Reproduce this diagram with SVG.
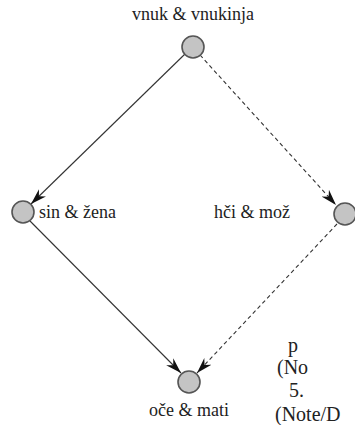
<svg xmlns="http://www.w3.org/2000/svg" width="355" height="425" viewBox="0 0 355 425">
<style>
.lbl{font-family:"Liberation Serif","Times New Roman",serif;font-size:18px;fill:#222}
.fr{font-family:"Liberation Serif","Times New Roman",serif;font-size:20px;fill:#222}
.nd{fill:#c4c4c4;stroke:#555;stroke-width:1.6}
.e{stroke:#333;stroke-width:1.1;fill:none}
.d{stroke-dasharray:4,3}
</style>
<defs>
<marker id="ah" markerUnits="userSpaceOnUse" markerWidth="18" markerHeight="12" refX="16" refY="5" orient="auto">
<path d="M0,0 L16,5 L0,10 L5,5 z" fill="#111"/>
</marker>
</defs>
<rect width="355" height="425" fill="#fff"/>
<g id="connectors">
<line class="e" x1="185" y1="54" x2="31" y2="204" marker-end="url(#ah)"/>
<line class="e d" x1="200" y1="55" x2="336" y2="205" marker-end="url(#ah)"/>
<line class="e" x1="30" y1="221" x2="181" y2="373" marker-end="url(#ah)"/>
<line class="e d" x1="337" y1="224" x2="197" y2="373" marker-end="url(#ah)"/>
</g>
<g id="n-top">
<circle class="nd" cx="193" cy="47" r="11"/>
<text class="lbl" x="193" y="20" text-anchor="middle">vnuk &amp; vnukinja</text>
</g>
<g id="n-left">
<circle class="nd" cx="23" cy="212" r="11"/>
<text class="lbl" x="39" y="218">sin &amp; žena</text>
</g>
<g id="n-right">
<circle class="nd" cx="345" cy="214" r="11"/>
<text class="lbl" x="214" y="218">hči &amp; mož</text>
</g>
<g id="n-bottom">
<circle class="nd" cx="189" cy="382" r="11"/>
<text class="lbl" x="189" y="416" text-anchor="middle">oče &amp; mati</text>
</g>
<g id="fragments" class="fr">
<text x="288" y="352">p</text>
<text x="277" y="374">(No</text>
<text x="289" y="397">5.</text>
<text x="275" y="421">(Note/D</text>
</g>
</svg>
